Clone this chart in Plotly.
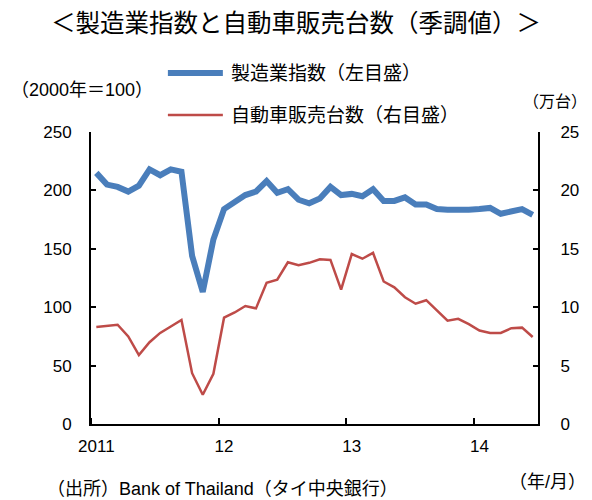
import plotly.graph_objects as go

# Data: monthly, Jan 2011 - Jun 2014
months = list(range(42))
manufacturing_index = [
    215, 205, 203, 199, 204, 218, 213, 218, 216, 144, 113, 158,
    184, 190, 196, 199, 208, 198, 201, 192, 189, 193, 203, 196,
    197, 195, 201, 191, 191, 194, 188, 188, 184, 183.5, 183, 183.5,
    184, 185, 180, 182, 184, 179,
]
auto_sales = [
    8.3, 8.4, 8.5, 7.5, 5.9, 7.0, 7.8, 8.35, 8.9, 4.35, 2.5, 4.3,
    9.1, 9.55, 10.1, 9.9, 12.1, 12.35, 13.85, 13.6, 13.8, 14.1, 14.05, 11.5,
    14.55, 14.15, 14.65, 12.2, 11.7, 10.85, 10.3, 10.6, 9.7, 8.85, 9.0, 8.55,
    8.0, 7.8, 7.8, 8.2, 8.25, 7.45,
]
series_names = ["製造業指数（左目盛）", "自動車販売台数（右目盛）"]
x_tickvals = [0, 12, 24, 36]
x_ticktext = ["2011", "12", "13", "14"]
left_ticks = [0, 50, 100, 150, 200, 250]
right_ticks = [0, 5, 10, 15, 20, 25]

FONT = "Liberation Sans, Noto Sans CJK JP"
BLUE = "#4a7ebb"
RED = "#be4b48"
WIDTHS = [6, 2.5]
COLORS = [BLUE, RED]

fig = go.Figure()
fig.add_trace(go.Scatter(
    x=months, y=manufacturing_index, mode="lines",
    name=series_names[0], line=dict(color=BLUE, width=WIDTHS[0]), yaxis="y",
))
fig.add_trace(go.Scatter(
    x=months, y=auto_sales, mode="lines",
    name=series_names[1], line=dict(color=RED, width=WIDTHS[1]), yaxis="y2",
))

axis_common = dict(showgrid=False, zeroline=False, showline=True,
                   linecolor="black", linewidth=2, ticks="inside",
                   tickcolor="black", tickwidth=2, ticklen=5,
                   tickfont=dict(size=17, color="black", family=FONT))

# page body has an 8px margin, so the figure is drawn at (8, 8)
fig.update_layout(
    width=584, height=492,
    margin=dict(l=83, r=54, t=124, b=76),
    paper_bgcolor="white", plot_bgcolor="white",
    font=dict(family=FONT, color="black"),
    title=dict(text="＜製造業指数と自動車販売台数（季調値）＞", x=0.493, xanchor="center",
               y=0.969, yanchor="middle", font=dict(size=24.5, family=FONT, color="black")),
    xaxis=dict(range=[-0.5, 41.5], tickvals=x_tickvals, ticktext=x_ticktext,
               showgrid=False, zeroline=False, showline=True, linecolor="black",
               linewidth=2, ticks="", ticklabelstandoff=6,
               tickfont=dict(size=17, color="black", family=FONT),
               minor=dict(tick0=-0.5, dtick=12, ticks="inside", ticklen=6,
                          tickcolor="black", tickwidth=2)),
    yaxis=dict(range=[0, 250], tickvals=left_ticks, side="left",
               ticklabelstandoff=14, **axis_common),
    yaxis2=dict(range=[0, 25], tickvals=right_ticks, side="right", overlaying="y",
                ticklabelstandoff=17, **axis_common),
    showlegend=False,
)

# legend drawn as line samples + labels above the plot
legend_rows = [1.202, 1.058]
for name, color, w, yy in zip(series_names, COLORS, WIDTHS, legend_rows):
    fig.add_shape(type="line", xref="paper", yref="paper", x0=0.172, x1=0.295,
                  y0=yy, y1=yy, line=dict(color=color, width=w))
    fig.add_annotation(text=name, x=0.309, y=yy, xref="paper", yref="paper",
                       xanchor="left", yanchor="middle", showarrow=False,
                       font=dict(size=19, family=FONT, color="black"))

annotations = [
    dict(text="（2000年＝100）", x=-0.183, y=1.144, anchor="left", size=18),
    dict(text="（万台）", x=1.114, y=1.103, anchor="right", size=16),
    dict(text="（年/月）", x=1.112, y=-0.199, anchor="right", size=18),
    dict(text="（出所）Bank of Thailand（タイ中央銀行）", x=-0.103, y=-0.223,
         anchor="left", size=18),
]
for a in annotations:
    fig.add_annotation(text=a["text"], x=a["x"], y=a["y"], xref="paper", yref="paper",
                       xanchor=a["anchor"], yanchor="middle", showarrow=False,
                       font=dict(size=a["size"], family=FONT, color="black"))

fig.write_html("out.html")
